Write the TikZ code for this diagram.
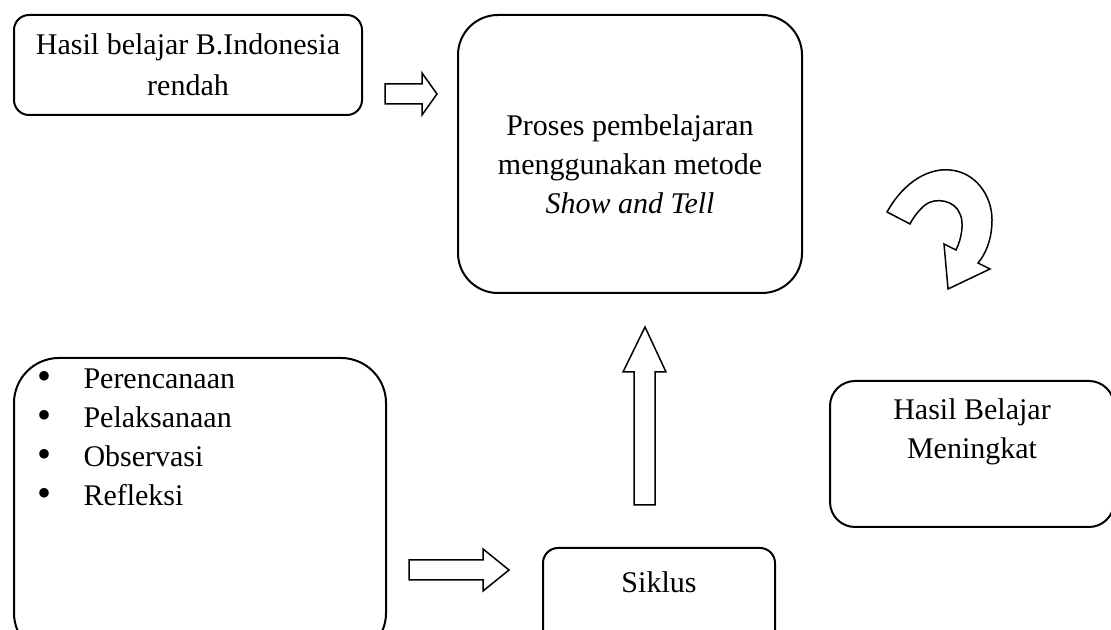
\documentclass[tikz,border=0pt]{standalone}
\usepackage{fontspec}
\setmainfont{Liberation Serif}
\usetikzlibrary{positioning}
\newcommand{\px}{0.4pt}
\newcommand{\butir}{\makebox[18.4pt][l]{\raisebox{-0.12ex}{\fontsize{16pt}{16pt}\selectfont\textbullet}}}
\tikzset{
	kotak/.style={draw, line width=0.8pt, inner sep=0pt},
	teks/.style={inner sep=0pt, font=\fontsize{12pt}{15.6pt}\selectfont},
	panah/.style={draw, line width=0.6pt, line join=miter},
}
\begin{document}
\begin{tikzpicture}[x=0.4pt, y=-0.4pt]
		\useasboundingbox (0,0) rectangle (1111,630);
		\clip (0,0) rectangle (1111,630);
		% kotak atas
		\node [kotak, rounded corners=6pt, minimum width=348*\px, minimum height=100*\px] (masalah) at (188,65) {};
		\node [teks, align=center, font=\fontsize{12pt}{16.4pt}\selectfont] (masalahteks) at (masalah.center) {Hasil belajar B.Indonesia\\rendah};
		\node [kotak, rounded corners=16pt, minimum width=344*\px, minimum height=278*\px] (proses) at (630,154) {};
		\node [teks, align=center] (prosesteks) at (630,164) {Proses pembelajaran\\menggunakan metode\\\textit{Show and Tell}};
		% kotak bawah
		\node [kotak, rounded corners=18pt, minimum width=372*\px, minimum height=300*\px] (tahap) at (200,508) {};
		\node [teks, align=left, anchor=north west] (tahapteks) at (37,368)
		{\butir Perencanaan\\
			\butir Pelaksanaan\\
			\butir Observasi\\
			\butir Refleksi};
		\node [kotak, rounded corners=6pt, minimum width=232*\px, minimum height=110*\px] (siklus) at (659,603) {};
		\node [teks] (siklusteks) at (659,582) {Siklus};
		\node [kotak, rounded corners=10pt, minimum width=284*\px, minimum height=146*\px] (hasil) at (972,454) {};
		\node [teks, align=center] (hasilteks) at (972,432) {Hasil Belajar\\Meningkat};
		% panah blok
		\draw [panah] (385,84) -- (422,84) -- (422,73) -- (437,94) -- (422,115) -- (422,104) -- (385,104) -- cycle;
		\draw [panah] (409,560) -- (483,560) -- (483,549) -- (509,570) -- (483,591) -- (483,580) -- (409,580) -- cycle;
		\draw [panah] (634,505) -- (634,372) -- (623,372) -- (645,327) -- (666,372) -- (655,372) -- (655,505) -- cycle;
		% panah lengkung
		\draw [panah] (887,212) .. controls (905,180) and (930,168) .. (950,170)
			.. controls (975,172) and (992,195) .. (992,220)
			.. controls (992,240) and (985,255) .. (978,263) -- (990,269) -- (948,289) -- (944,244) -- (956,250)
			.. controls (962,238) and (964,222) .. (960,214)
			.. controls (955,200) and (935,197) .. (925,205)
			.. controls (918,211) and (913,218) .. (910,224) -- cycle;
\end{tikzpicture}
\end{document}
